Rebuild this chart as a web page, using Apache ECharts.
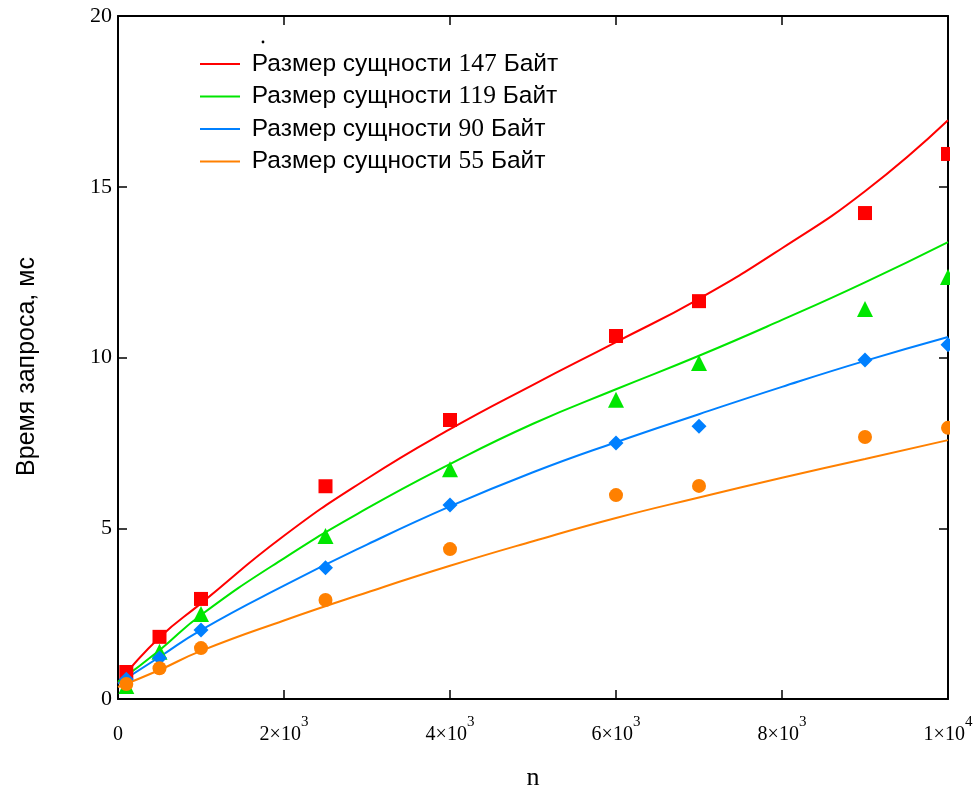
<!DOCTYPE html>
<html>
<head>
<meta charset="utf-8">
<script src="https://cdn.jsdelivr.net/npm/echarts@6/dist/echarts.min.js"></script>
<style>html,body{margin:0;padding:0;background:#fff}#c{width:979px;height:794px}</style>
</head>
<body>
<div id="c"></div>
<script>
// ---- data ----
const seriesNames = ['Размер сущности 147 Байт', 'Размер сущности 119 Байт', 'Размер сущности 90 Байт', 'Размер сущности 55 Байт'];
const seriesColors = ['#ff0000', '#00e600', '#0080ff', '#ff8000'];
const markerShapes = ['rect', 'triangle', 'diamond', 'circle'];

// measured points
const nPoints = [100, 500, 1000, 2500, 4000, 6000, 7000, 9000, 10000];
const pts147 = [0.79, 1.82, 2.93, 6.23, 8.17, 10.63, 11.65, 14.23, 15.96];
const pts119 = [0.38, 1.38, 2.49, 4.77, 6.73, 8.76, 9.84, 11.42, 12.36];
const pts90  = [0.58, 1.2, 2.02, 3.84, 5.68, 7.5, 7.99, 9.93, 10.37];
const pts55  = [0.44, 0.9, 1.49, 2.9, 4.39, 5.97, 6.24, 7.67, 7.94];

// fitted curves
const nCurve = [0, 500, 1000, 2000, 3000, 4000, 5000, 6000, 7000, 8000, 9000, 10000];
const fit147 = [0.47, 1.8, 2.8, 4.78, 6.45, 7.9, 9.2, 10.45, 11.72, 13.2, 14.87, 16.95];
const fit119 = [0.5, 1.43, 2.46, 4.12, 5.58, 6.88, 8.06, 9.07, 10.05, 11.1, 12.2, 13.38];
const fit90  = [0.45, 1.23, 2.02, 3.32, 4.52, 5.64, 6.64, 7.52, 8.34, 9.14, 9.9, 10.6];
const fit55  = [0.35, 0.85, 1.41, 2.3, 3.12, 3.9, 4.62, 5.3, 5.9, 6.48, 7.03, 7.58];

const yTicks = [0, 5, 10, 15, 20];
const xTicks = [0, 2000, 4000, 6000, 8000, 10000];

const ptsAll = [pts147, pts119, pts90, pts55];
const fitAll = [fit147, fit119, fit90, fit55];

const serif = '"Liberation Serif", "DejaVu Serif", serif';
const sans = '"Liberation Sans", Arial, sans-serif';

function xLabel(v) {
  if (v === 0) return '{b|0}';
  const e = Math.floor(Math.log10(v) + 1e-9);
  const m = Math.round(v / Math.pow(10, e));
  return '{b|' + m + '×10}{s|' + e + '}';
}

const series = [];
fitAll.forEach((arr, i) => {
  series.push({
    name: seriesNames[i], type: 'line', smooth: 0.5, showSymbol: false, symbol: 'none',
    data: nCurve.map((n, k) => [n, arr[k]]),
    lineStyle: { color: seriesColors[i], width: 2 }, itemStyle: { color: seriesColors[i] },
    z: 3, silent: true
  });
});
ptsAll.forEach((arr, i) => {
  series.push({
    name: 'pts' + i, type: 'scatter', symbol: markerShapes[i],
    symbolSize: markerShapes[i] === 'diamond' ? 15 : (markerShapes[i] === 'triangle' ? 16 : 14),
    data: nPoints.map((n, k) => [n, arr[k]]),
    itemStyle: { color: seriesColors[i], opacity: 1 }, z: 4, silent: true
  });
});

const axisLine = { show: true, onZero: false, lineStyle: { color: '#000', width: 2 } };
const tick = { show: true, inside: true, length: 9, lineStyle: { color: '#000', width: 1.5 } };
const chart = echarts.init(document.getElementById('c'), null, { renderer: 'canvas' });
chart.setOption({
  animation: false,
  backgroundColor: '#fff',
  grid: { left: 118, right: 31, top: 16, bottom: 95, containLabel: false, outerBoundsMode: 'none' },
  legend: {
    orient: 'vertical', left: 200, top: 51, itemGap: 6.5, padding: 0,
    icon: 'rect', itemWidth: 40, itemHeight: 2,
    data: seriesNames,
    formatter: name => '{s| ' + name.replace(/(\d+)/, '}{n|$1}{s|') + '}',
    textStyle: {
      color: '#000',
      rich: {
        s: { fontFamily: sans, fontSize: 24.5, color: '#000' },
        n: { fontFamily: serif, fontSize: 25.5, color: '#000' }
      }
    }
  },
  xAxis: [{
    type: 'value', min: 0, max: 10000, interval: 2000,
    name: 'n', nameLocation: 'middle', nameGap: 66,
    nameTextStyle: { fontFamily: serif, fontSize: 26, color: '#000' },
    axisLine: axisLine, splitLine: { show: false }, axisTick: tick,
    axisLabel: {
      margin: 16, formatter: xLabel,
      rich: {
        b: { fontFamily: serif, fontSize: 20, color: '#000', verticalAlign: 'bottom', lineHeight: 30 },
        s: { fontFamily: serif, fontSize: 15, color: '#000', verticalAlign: 'top', lineHeight: 30 }
      }
    }
  }, {
    type: 'value', min: 0, max: 10000, interval: 2000, position: 'top',
    axisLine: axisLine, splitLine: { show: false }, axisTick: tick,
    axisLabel: { show: false }
  }],
  yAxis: [{
    type: 'value', min: 0, max: 20, interval: 5,
    name: 'Время запроса, мс', nameLocation: 'middle', nameGap: 78, nameRotate: 90,
    nameTextStyle: { fontFamily: sans, fontSize: 25, color: '#000', padding: [0, 18, 0, 0] },
    axisLine: axisLine, splitLine: { show: false }, axisTick: tick,
    axisLabel: { margin: 6, fontFamily: serif, fontSize: 22, color: '#000', formatter: v => yTicks.includes(v) ? String(v) : '' }
  }, {
    type: 'value', min: 0, max: 20, interval: 5, position: 'right',
    axisLine: axisLine, splitLine: { show: false }, axisTick: tick,
    axisLabel: { show: false }
  }],
  graphic: [
    { type: 'rect', shape: { x: 950, y: 0, width: 40, height: 707 }, style: { fill: '#fff' }, z: 100, silent: true },
    { type: 'circle', shape: { cx: 263, cy: 42, r: 1.4 }, style: { fill: '#000' }, z: 100, silent: true }
  ],
  series: series
});
</script>
</body>
</html>
